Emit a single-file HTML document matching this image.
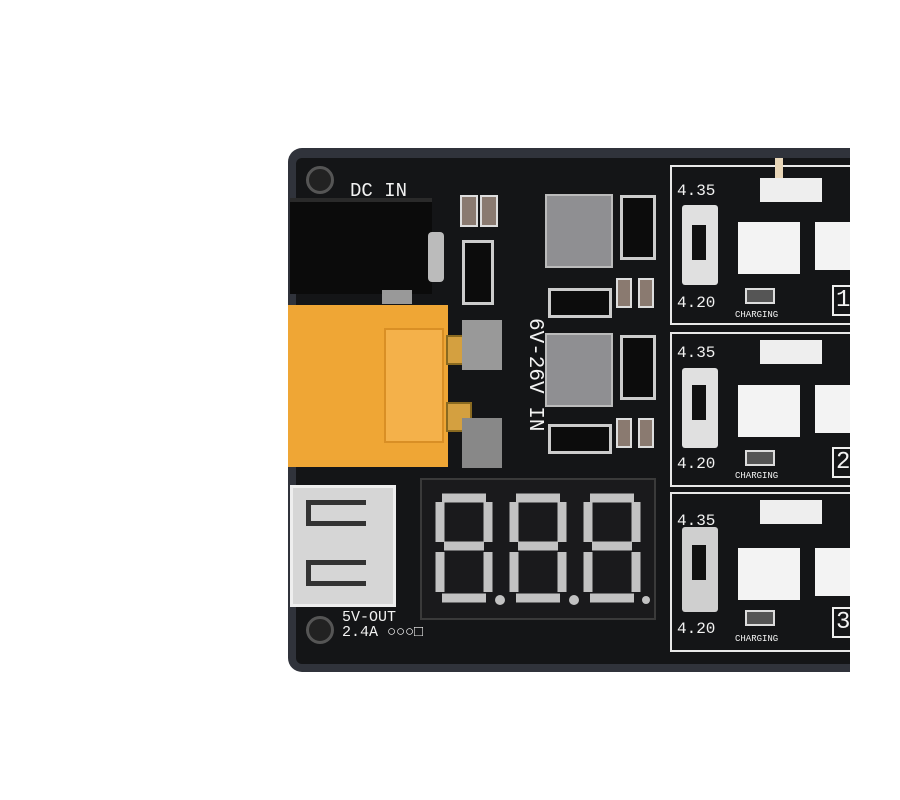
<!DOCTYPE html>
<html><head><style>
body{margin:0;width:900px;height:800px;background:#fff;position:relative;overflow:hidden;font-family:"Liberation Mono",monospace}
div{position:absolute;box-sizing:border-box}
.t{color:#f2f2f2;white-space:nowrap}
.pan{border:2px solid #e8e8e8}
.cap{background:#8a7a70;border:2px solid #ddd}
.seg{background:#bdbdbd}
</style></head><body>
<div style="left:288px;top:148px;width:600px;height:524px;background:#30333b;border-radius:14px"></div>
<div style="left:296px;top:158px;width:590px;height:506px;background:#141517;border-radius:6px"></div>
<!-- screws -->
<div style="left:306px;top:166px;width:28px;height:28px;border-radius:50%;background:#222;border:3px solid #555"></div>
<div style="left:306px;top:616px;width:28px;height:28px;border-radius:50%;background:#222;border:3px solid #555"></div>
<div class="t" style="left:350px;top:180px;font-size:19px">DC IN</div>
<!-- DC jack -->
<div style="left:290px;top:198px;width:142px;height:96px;background:#0b0b0b;border-top:4px solid #2a2a2a"></div>
<div style="left:428px;top:232px;width:16px;height:50px;background:#bbb;border-radius:4px"></div>
<div style="left:382px;top:290px;width:30px;height:14px;background:#999"></div>
<!-- XT60 -->
<div style="left:288px;top:305px;width:160px;height:162px;background:#efa635"></div>
<div style="left:384px;top:328px;width:60px;height:115px;background:#f4b14a;border:2px solid #d98f25"></div>
<div style="left:446px;top:335px;width:26px;height:30px;background:#d4a040;border:2px solid #8a6a20"></div>
<div style="left:446px;top:402px;width:26px;height:30px;background:#d4a040;border:2px solid #8a6a20"></div>
<div style="left:462px;top:320px;width:40px;height:50px;background:#999"></div>
<div style="left:462px;top:418px;width:40px;height:50px;background:#888"></div>
<div class="t" style="left:470px;top:384px;font-size:21px;transform:rotate(90deg);transform-origin:left top;left:546px;top:318px">6V-26V IN</div>
<!-- small parts -->
<div class="cap" style="left:460px;top:195px;width:18px;height:32px"></div>
<div class="cap" style="left:480px;top:195px;width:18px;height:32px"></div>
<div style="left:462px;top:240px;width:32px;height:65px;background:#0c0c0c;border:3px solid #ccc"></div>
<div style="left:545px;top:194px;width:68px;height:74px;background:#8f8f92;border:2px solid #bbb"></div>
<div style="left:545px;top:333px;width:68px;height:74px;background:#8f8f92;border:2px solid #bbb"></div>
<div style="left:620px;top:195px;width:36px;height:65px;background:#0c0c0c;border:3px solid #ccc"></div>
<div style="left:620px;top:335px;width:36px;height:65px;background:#0c0c0c;border:3px solid #ccc"></div>
<div style="left:548px;top:288px;width:64px;height:30px;background:#0c0c0c;border:3px solid #ccc"></div>
<div style="left:548px;top:424px;width:64px;height:30px;background:#0c0c0c;border:3px solid #ccc"></div>
<div class="cap" style="left:616px;top:278px;width:16px;height:30px"></div>
<div class="cap" style="left:638px;top:278px;width:16px;height:30px"></div>
<div class="cap" style="left:616px;top:418px;width:16px;height:30px"></div>
<div class="cap" style="left:638px;top:418px;width:16px;height:30px"></div>
<!-- USB -->
<div style="left:290px;top:485px;width:106px;height:122px;background:#d6d6d6;border:3px solid #eee"></div>
<div style="left:306px;top:500px;width:60px;height:26px;border:5px solid #333;border-right:none"></div>
<div style="left:306px;top:560px;width:60px;height:26px;border:5px solid #333;border-right:none"></div>
<div class="t" style="left:342px;top:610px;font-size:15px;line-height:15px">5V-OUT<br>2.4A ○○○□</div>
<!-- display -->
<div style="left:420px;top:478px;width:236px;height:142px;background:#1a1a1c;border:2px solid #3a3a3a"></div>
<svg style="position:absolute;left:430px;top:490px" width="220" height="120" viewBox="0 0 220 120">
<g fill="none" stroke="#c2c2c2" stroke-width="9">
<path d="M12 8h44M10 12v40M58 12v40M14 56h40M10 62v40M58 62v40M12 108h44"/>
<path d="M86 8h44M84 12v40M132 12v40M88 56h40M84 62v40M132 62v40M86 108h44"/>
<path d="M160 8h44M158 12v40M206 12v40M162 56h40M158 62v40M206 62v40M160 108h44"/>
</g><g fill="#c2c2c2"><circle cx="70" cy="110" r="5"/><circle cx="144" cy="110" r="5"/><circle cx="216" cy="110" r="4"/></g></svg>
<!-- panels -->
<div class="pan" style="left:670px;top:165px;width:190px;height:160px"></div>
<div class="pan" style="left:670px;top:332px;width:190px;height:155px"></div>
<div class="pan" style="left:670px;top:492px;width:190px;height:160px"></div>
<div class="t" style="left:677px;top:182px;font-size:16px">4.35</div>
<div class="t" style="left:677px;top:294px;font-size:16px">4.20</div>
<div class="t" style="left:735px;top:310px;font-size:9px">CHARGING</div>
<div class="t" style="left:677px;top:344px;font-size:16px">4.35</div>
<div class="t" style="left:677px;top:455px;font-size:16px">4.20</div>
<div class="t" style="left:735px;top:471px;font-size:9px">CHARGING</div>
<div class="t" style="left:677px;top:512px;font-size:16px">4.35</div>
<div class="t" style="left:677px;top:620px;font-size:16px">4.20</div>
<div class="t" style="left:735px;top:634px;font-size:9px">CHARGING</div>
<div class="t" style="left:832px;top:285px;font-size:24px;border:2px solid #eee;padding:0 2px">1</div>
<div class="t" style="left:832px;top:447px;font-size:24px;border:2px solid #eee;padding:0 2px">2</div>
<div class="t" style="left:832px;top:607px;font-size:24px;border:2px solid #eee;padding:0 2px">3</div>
<!-- switches/connectors -->
<div style="left:682px;top:205px;width:36px;height:80px;background:#e0e0e0;border-radius:3px"></div>
<div style="left:692px;top:225px;width:14px;height:35px;background:#111"></div>
<div style="left:682px;top:368px;width:36px;height:80px;background:#e0e0e0;border-radius:3px"></div>
<div style="left:692px;top:385px;width:14px;height:35px;background:#111"></div>
<div style="left:682px;top:527px;width:36px;height:85px;background:#cfcfcf;border-radius:3px"></div>
<div style="left:692px;top:545px;width:14px;height:35px;background:#111"></div>
<div style="left:760px;top:178px;width:62px;height:24px;background:#eee"></div>
<div style="left:775px;top:158px;width:8px;height:20px;background:#e8d6b8"></div>
<div style="left:760px;top:340px;width:62px;height:24px;background:#eee"></div>
<div style="left:760px;top:500px;width:62px;height:24px;background:#eee"></div>
<div style="left:738px;top:222px;width:62px;height:52px;background:#f3f3f3"></div>
<div style="left:815px;top:222px;width:40px;height:48px;background:#f3f3f3"></div>
<div style="left:738px;top:385px;width:62px;height:52px;background:#f3f3f3"></div>
<div style="left:815px;top:385px;width:40px;height:48px;background:#f3f3f3"></div>
<div style="left:738px;top:548px;width:62px;height:52px;background:#f3f3f3"></div>
<div style="left:815px;top:548px;width:40px;height:48px;background:#f3f3f3"></div>
<div style="left:745px;top:288px;width:30px;height:16px;border:2px solid #ddd;background:#555"></div>
<div style="left:745px;top:450px;width:30px;height:16px;border:2px solid #ddd;background:#555"></div>
<div style="left:745px;top:610px;width:30px;height:16px;border:2px solid #ddd;background:#555"></div>
<div style="left:850px;top:0;width:50px;height:800px;background:#fff"></div>
</body></html>
